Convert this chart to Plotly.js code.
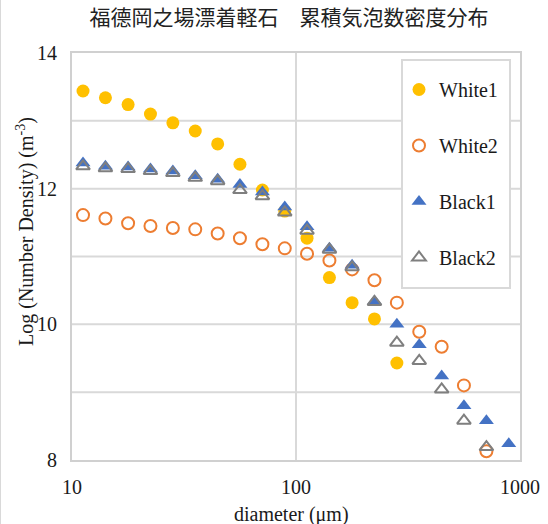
<!DOCTYPE html>
<html>
<head>
<meta charset="utf-8">
<script src="https://cdn.plot.ly/plotly-3.0.1.min.js"></script>
<style>html,body{margin:0;padding:0;background:#fff;}#chart{width:548px;height:524px;}</style>
</head>
<body>
<div id="chart"></div>
<script>
// diameters (µm), bin positions
var diameters = [11.2, 14.1, 17.8, 22.4, 28.2, 35.5, 44.7, 56.2, 70.8, 89.1, 112, 141, 178, 224, 282, 355, 447, 562, 708, 891];
var seriesNames = ["White1", "White2", "Black1", "Black2"];
var white1 = [13.44, 13.34, 13.24, 13.10, 12.97, 12.85, 12.66, 12.36, 11.98, 11.67, 11.27, 10.69, 10.32, 10.08, 9.43];
var white2 = [11.61, 11.56, 11.49, 11.45, 11.42, 11.40, 11.34, 11.27, 11.18, 11.12, 11.04, 10.94, 10.81, 10.65, 10.32, 9.89, 9.67, 9.10, 8.13];
var black1 = [12.38, 12.33, 12.32, 12.29, 12.26, 12.19, 12.14, 12.06, 11.95, 11.73, 11.44, 11.12, 10.87, 10.34, 10.00, 9.70, 9.24, 8.80, 8.58, 8.24];
var black2 = [12.33, 12.30, 12.29, 12.26, 12.23, 12.16, 12.11, 11.98, 11.89, 11.65, 11.38, 11.10, 10.84, 10.33, 9.73, 9.46, 9.04, 8.58, 8.19];
var xTickVals = [10, 100, 1000];
var xTickText = ["10", "100", "1000"];
var yTickVals = [8, 10, 12, 14];
var yGridVals = [9, 10, 11, 12, 13];

var serif = "Liberation Serif";

function tr(name, ys, marker) {
  return {
    type: "scatter", mode: "markers", name: name, legendgroup: name,
    x: diameters.slice(0, ys.length), y: ys, marker: marker, cliponaxis: false
  };
}

var data = [
  tr(seriesNames[0], white1, {symbol: "circle", size: 13, color: "#FFC000", line: {width: 0}}),
  tr(seriesNames[1], white2, {symbol: "circle-open", size: 12, color: "#ED7D31", line: {width: 2, color: "#ED7D31"}}),
  tr(seriesNames[2], black1, {symbol: "triangle-up", size: 13, color: "#4472C4", line: {width: 0}}),
  tr(seriesNames[3], black2, {symbol: "triangle-up-open", size: 12, color: "#7f7f7f", line: {width: 2, color: "#7f7f7f"}})
];

var pw = 448, ph = 407, ml = 72, mt = 53;
function px(x) { return (x - ml) / pw; }
function py(y) { return (mt + ph - y) / ph; }

var shapes = yGridVals.map(function (v) {
  return {type: "line", xref: "paper", yref: "y", x0: 0, x1: 1, y0: v, y1: v, line: {color: "#d9d9d9", width: 2}, layer: "below"};
});
shapes.push({type: "rect", xref: "paper", yref: "paper", x0: px(402), x1: px(510), y0: py(288), y1: py(60),
  fillcolor: "#ffffff", line: {color: "#d9d9d9", width: 2}, layer: "above"});
shapes.push({type: "line", xref: "paper", yref: "paper", x0: px(0.5), x1: px(0.5), y0: py(524), y1: py(0),
  line: {color: "#d9d9d9", width: 1}, layer: "above"});

var layout = {
  width: 548, height: 524,
  margin: {l: ml, r: 548 - ml - pw, t: mt, b: 524 - mt - ph, pad: 0},
  paper_bgcolor: "#ffffff", plot_bgcolor: "#ffffff",
  showlegend: true,
  title: {text: "福德岡之場漂着軽石　累積気泡数密度分布", x: px(289), xref: "paper", xanchor: "center", y: 1, yref: "container", yanchor: "top", pad: {t: 10},
    font: {family: "Noto Sans CJK JP", size: 21, color: "#222"}},
  xaxis: {
    type: "log", range: [1, 3], tickvals: xTickVals, ticktext: xTickText,
    showgrid: true, gridcolor: "#d9d9d9", gridwidth: 2,
    showline: true, linecolor: "#d0d0d0", linewidth: 2, mirror: true,
    ticks: "", ticklabelstandoff: 8, zeroline: false,
    tickfont: {family: serif, size: 20, color: "#1a1a1a"}
  },
  yaxis: {
    range: [8, 14], tickvals: yTickVals,
    showgrid: false,
    showline: true, linecolor: "#d0d0d0", linewidth: 2, mirror: true,
    ticks: "", ticklabelstandoff: 9, zeroline: false,
    tickfont: {family: serif, size: 20, color: "#1a1a1a"}
  },
  legend: {
    x: px(399), y: py(70), xanchor: "left", yanchor: "top",
    bgcolor: "rgba(0,0,0,0)", borderwidth: 0,
    traceorder: "grouped", tracegroupgap: 27,
    font: {family: serif, size: 20, color: "#1a1a1a"}
  },
  shapes: shapes,
  annotations: [
    {text: "diameter (μm)", xref: "paper", yref: "paper", x: px(291), y: py(514), xanchor: "center", yanchor: "middle", showarrow: false,
      font: {family: serif, size: 20, color: "#1a1a1a"}},
    {text: "Log (Number Density) (m<sup>-3</sup>)", xref: "paper", yref: "paper", x: px(25), y: py(232), xanchor: "center", yanchor: "middle", textangle: -90, showarrow: false,
      font: {family: serif, size: 20, color: "#1a1a1a"}}
  ]
};

Plotly.newPlot("chart", data, layout, {displayModeBar: false, staticPlot: true});
</script>
</body>
</html>
